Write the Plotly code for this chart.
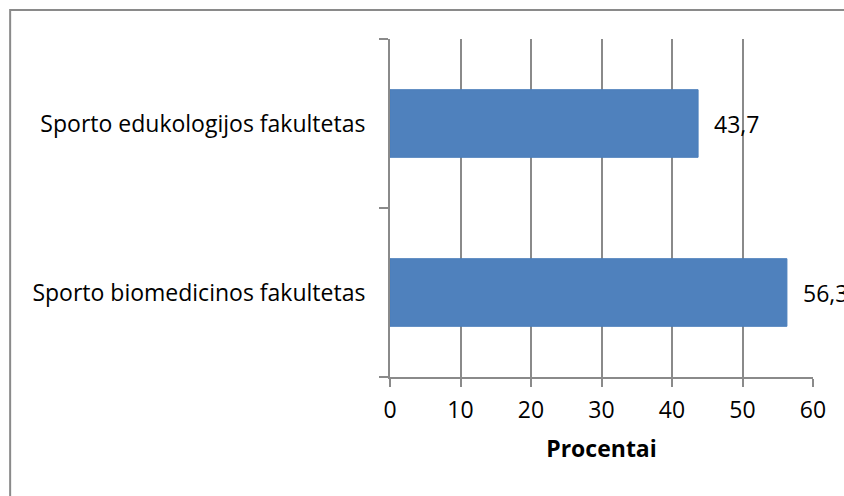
import plotly.graph_objects as go

categories = ["Sporto biomedicinos fakultetas", "Sporto edukologijos fakultetas"]
values = [56.3, 43.7]
x_ticks = [0, 10, 20, 30, 40, 50, 60]
x_title = "Procentai"

FONT = "Open Sans"
FS = 23
GRAY = "#8a8a8a"

fig = go.Figure()
fig.add_trace(go.Bar(
    y=categories, x=values, orientation="h",
    marker=dict(color="#4F81BD", line=dict(color="#4a7ebb", width=1)),
    width=0.4, hoverinfo="skip",
))

for c, v in zip(categories, values):
    fig.add_annotation(
        x=v, y=c, xref="x", yref="y", text=f"{v:.1f}".replace(".", ","),
        showarrow=False, xanchor="left", xshift=14,
        font=dict(family=FONT, size=FS, color="#000000"),
    )

# outer chart border (Excel chart area)
fig.add_shape(type="rect", xref="paper", yref="paper",
              x0=-0.898, x1=1.3, y0=-0.6, y1=1.0858,
              line=dict(color=GRAY, width=2), fillcolor="rgba(0,0,0,0)", layer="below")

fig.update_layout(
    width=844, height=496,
    margin=dict(l=390, r=31, t=39, b=119, autoexpand=False),
    paper_bgcolor="white", plot_bgcolor="white",
    showlegend=False,
    font=dict(family=FONT, size=FS, color="#000000"),
    xaxis=dict(
        range=[0, 60], tickvals=x_ticks, ticktext=[str(t) for t in x_ticks],
        showgrid=True, gridcolor=GRAY, gridwidth=1.5,
        showline=True, linecolor=GRAY, linewidth=2,
        ticks="outside", ticklen=8, tickcolor=GRAY, tickwidth=2,
        zeroline=False, ticklabelstandoff=3,
        title=dict(text=f"<b>{x_title}</b>", standoff=17,
                   font=dict(family=FONT, size=FS, color="#000000")),
        fixedrange=True,
    ),
    yaxis=dict(
        type="category", range=[-0.5, 1.5],
        tickson="boundaries", ticks="outside", ticklen=9, tickcolor=GRAY, tickwidth=2,
        showline=True, linecolor=GRAY, linewidth=2,
        showgrid=False, zeroline=False, ticklabelstandoff=18,
        fixedrange=True,
    ),
)

fig.write_html("out.html", config={"displayModeBar": False},
               post_script="document.body.style.margin='0';document.body.style.overflow='hidden';")
